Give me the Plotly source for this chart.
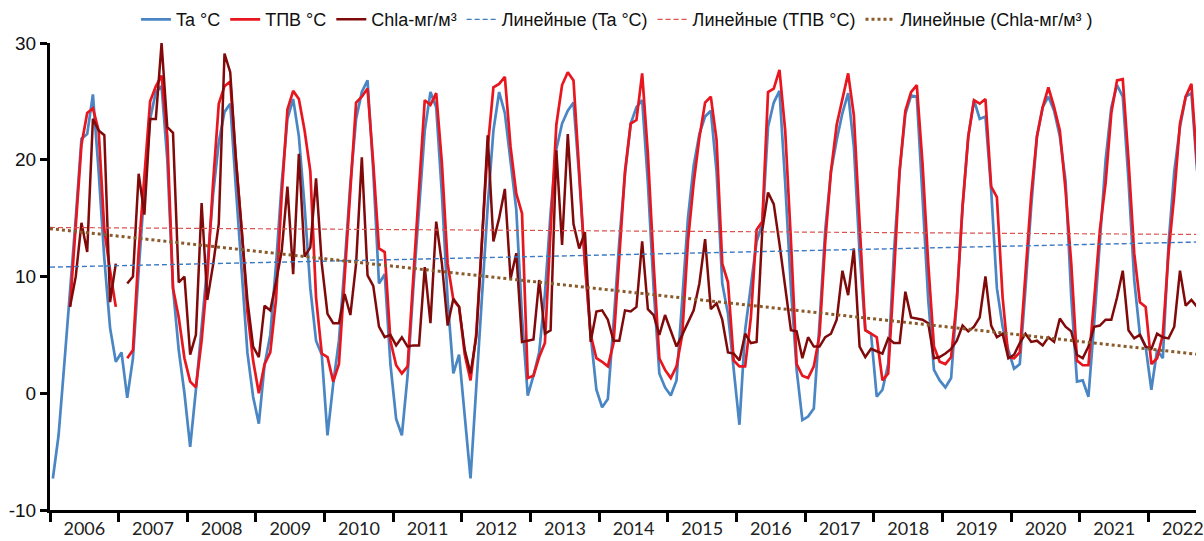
import plotly.graph_objects as go

# Monthly series, January 2006 onwards (index 0 = Jan 2006)
ta = [
    -7.3, -3.6, 2.5, 8.5, 15.0, 21.8, 22.2, 25.6, 19.0, 11.5, 5.6, 2.7,
    3.5, -0.4, 3.0, 10.5, 17.5, 23.5, 25.8, 26.3, 20.0, 9.0, 3.7, 0.0,
    -4.6, 0.3, 5.5, 11.0, 17.0, 21.5, 24.1, 24.8, 17.5, 10.5, 3.5, -0.3,
    -2.6, 2.4, 5.0, 11.0, 18.0, 23.5, 25.2, 22.0, 16.0, 9.0, 4.5, 3.3,
    -3.6, 0.8, 4.5, 11.0, 18.0, 23.5, 25.8, 26.8, 19.0, 9.4, 10.2, 2.5,
    -2.2, -3.6, 1.5, 9.0, 16.0, 22.5, 25.8, 24.5, 17.0, 8.0, 1.7, 3.3,
    -2.0, -7.3, 0.5, 8.0, 16.0, 22.5, 25.8, 24.0, 20.0, 15.7, 6.5, -0.2,
    1.5, 3.5, 8.5, 15.5, 20.9, 23.1, 24.2, 24.9, 18.5, 11.1, 5.0, 0.3,
    -1.2, -0.5, 6.0, 13.0, 18.8, 23.1, 24.5, 25.1, 18.0, 9.0, 1.7, 0.5,
    -0.2, 1.1, 8.0, 15.0, 19.5, 22.2, 23.7, 24.2, 19.0, 9.4, 6.8, 2.0,
    -2.7, 5.4, 9.0, 13.0, 14.5, 22.8, 24.9, 25.9, 18.0, 9.0, 2.0, -2.3,
    -2.0, -1.3, 6.0, 14.0, 19.0, 21.7, 24.0, 25.7, 21.1, 12.0, 5.4, 5.1,
    -0.3, 0.3, 2.5, 12.0, 19.0, 23.9, 25.5, 25.4, 16.8, 8.0, 2.0, 1.1,
    0.5, 1.3, 8.0, 16.0, 22.0, 25.1, 23.5, 23.7, 17.4, 9.0, 5.7, 3.7,
    2.1, 2.5, 9.0, 16.0, 22.0, 24.5, 25.4, 24.2, 22.0, 18.2, 8.2, 1.0,
    1.1, -0.3, 6.0, 13.0, 20.0, 24.5, 26.4, 25.4, 18.2, 9.7, 5.0, 4.0,
    0.3, 3.7, 3.0, 12.8, 19.0, 22.8, 25.4, 25.7, 19.0,
]

tpv = [
    None, None, None, 7.4, 14.5, 21.3, 24.0, 24.4, 22.5, 14.0, 10.5, 7.4,
    None, 3.0, 3.7, 12.2, 19.0, 25.0, 26.3, 27.2, 22.0, 9.0, 6.5, 3.0,
    1.0, 0.5, 4.5, 10.0, 18.0, 24.8, 26.3, 26.7, 20.0, 14.0, 7.0, 2.8,
    0.0, 2.5, 3.5, 8.0, 17.0, 24.3, 25.9, 25.2, 22.5, 19.0, 8.2, 3.4,
    3.1, 1.0, 2.5, 10.0, 18.0, 24.9, 25.4, 26.1, 19.7, 12.4, 12.1, 4.5,
    2.4, 1.7, 2.3, 10.0, 18.0, 25.1, 24.7, 25.7, 19.7, 11.1, 8.0, 7.4,
    3.3, 1.1, 5.1, 13.0, 21.0, 26.2, 26.5, 27.1, 21.1, 17.1, 15.4, 1.3,
    1.5, 3.1, 4.3, 14.0, 23.0, 26.4, 27.5, 26.8, 19.4, 11.1, 5.0, 3.0,
    2.7, 2.3, 4.3, 12.0, 19.0, 23.1, 23.4, 27.4, 20.5, 11.1, 3.0, 2.0,
    1.3, 2.3, 5.0, 13.0, 18.0, 21.9, 24.9, 25.4, 21.7, 11.1, 9.5, 2.8,
    2.3, 2.3, 6.5, 14.0, 14.7, 25.8, 26.1, 27.7, 22.5, 13.1, 2.5, 1.5,
    1.3, 2.3, 5.0, 13.0, 19.0, 23.0, 25.1, 27.4, 23.8, 14.0, 5.4, 5.1,
    4.8, 1.1, 1.7, 10.0, 19.1, 24.2, 25.8, 26.4, 19.7, 11.1, 4.0, 2.7,
    2.5, 3.1, 8.0, 16.0, 22.0, 25.1, 24.8, 25.2, 17.7, 16.8, 8.2, 3.1,
    3.0, 3.5, 10.0, 17.0, 22.0, 24.5, 26.2, 24.5, 22.5, 17.4, 11.1, 2.8,
    2.4, 2.4, 8.0, 14.0, 18.0, 24.0, 26.8, 26.9, 20.0, 12.0, 7.8, 7.4,
    2.5, 3.0, 5.0, 12.0, 17.0, 23.1, 25.4, 26.5, 19.5,
]

chla = [
    None, None, None, 7.4, 10.0, 14.6, 12.1, 23.5, 22.5, 22.1, 7.8, 11.1,
    None, 9.4, 10.0, 18.8, 15.3, 23.5, 23.5, 30.0, 22.8, 22.3, 9.5, 10.0,
    3.3, 5.0, 16.3, 8.0, 11.0, 14.5, 29.1, 27.5, 20.0, 14.0, 8.0, 4.0,
    3.1, 7.5, 7.1, 9.5, 12.2, 17.7, 10.2, 20.5, 11.7, 12.5, 18.4, 11.1,
    6.8, 6.0, 6.0, 8.5, 6.7, 11.1, 20.2, 10.1, 9.2, 5.7, 4.8, 5.0,
    4.1, 4.8, 4.0, 4.1, 4.1, 10.8, 6.0, 14.7, 11.1, 5.8, 8.1, 7.4,
    3.7, 1.7, 4.8, 13.0, 22.1, 13.0, 15.0, 17.5, 9.8, 12.0, 4.4, 4.5,
    4.6, 9.7, 5.1, 5.4, 20.8, 12.7, 22.2, 14.5, 12.4, 13.8, 4.4, 7.0,
    7.1, 6.3, 4.5, 4.5, 7.1, 7.0, 7.4, 13.0, 7.2, 6.7, 5.0, 6.7,
    5.4, 4.0, 5.0, 6.0, 7.1, 9.4, 13.2, 7.2, 7.7, 6.3, 3.5, 3.4,
    2.8, 5.1, 4.3, 4.4, 14.0, 17.2, 16.2, 12.8, 9.1, 5.4, 5.3, 3.0,
    4.8, 4.0, 4.0, 4.8, 5.1, 6.3, 10.5, 8.4, 12.4, 4.0, 3.1, 3.8,
    3.6, 3.4, 4.7, 4.3, 4.3, 8.7, 6.5, 6.4, 6.3, 6.0, 3.0, 3.1,
    3.4, 3.8, 4.5, 5.8, 5.3, 5.7, 6.5, 10.0, 5.8, 4.8, 5.1, 3.0,
    3.3, 4.3, 5.1, 4.4, 4.5, 4.1, 4.8, 4.4, 6.4, 5.7, 5.3, 3.3,
    3.0, 4.0, 5.7, 5.8, 6.3, 6.3, 8.2, 10.5, 5.4, 4.7, 5.0, 4.0,
    3.8, 5.1, 4.8, 4.7, 5.7, 10.5, 7.5, 8.0, 7.4,
]

# Linear trend lines (values at the start and end of the month axis)
trend_months = [-0.5, 199.8]
trend_ta = [10.8, 12.95]
trend_tpv = [14.2, 13.6]
trend_chla = [14.1, 3.35]

years = [str(y) for y in range(2006, 2023)]
y_ticks = [-10, 0, 10, 20, 30]
y_tick_text = ["-10", "0", "10", "20", "30"]

C_TA = "#4a86c4"
C_TPV = "#e8161e"
C_CHLA = "#800a0a"

months = list(range(len(ta)))

fig = go.Figure()

fig.add_trace(go.Scatter(x=months, y=ta, mode="lines", name="Ta °C",
                         line=dict(color=C_TA, width=2.7)))
fig.add_trace(go.Scatter(x=months, y=tpv, mode="lines", name="ТПВ °C",
                         line=dict(color=C_TPV, width=2.7)))
fig.add_trace(go.Scatter(x=months, y=chla, mode="lines", name="Chla-мг/м³",
                         line=dict(color=C_CHLA, width=2.5)))

fig.add_trace(go.Scatter(x=trend_months, y=trend_ta, mode="lines", name="Линейные (Ta °C)",
                         line=dict(color="#3c78c0", width=1.4, dash="5px,3px")))
fig.add_trace(go.Scatter(x=trend_months, y=trend_tpv, mode="lines", name="Линейные (ТПВ °C)",
                         line=dict(color="#d9534f", width=1.2, dash="5px,3px")))
fig.add_trace(go.Scatter(x=trend_months, y=trend_chla, mode="lines",
                         name="Линейные (Chla-мг/м³ )",
                         line=dict(color="#8a5a2a", width=3, dash="dot")))

fig.update_layout(
    width=1204, height=541,
    margin=dict(l=50, r=0, t=43, b=31),
    paper_bgcolor="white", plot_bgcolor="white",
    font=dict(family="Liberation Sans, Arial, sans-serif", color="#111111"),
    showlegend=True,
    legend=dict(orientation="h", x=0.075, xanchor="left", y=1.05, yanchor="middle",
                font=dict(size=18, family="Liberation Sans, Arial, sans-serif"),
                itemwidth=30, tracegroupgap=0, bgcolor="rgba(0,0,0,0)"),
)

fig.update_xaxes(
    range=[-0.5, 199.8],
    tickmode="array",
    tickvals=[12 * k + 5.5 for k in range(len(years))],
    ticktext=years,
    ticks="",
    ticklabeloverflow="allow",
    tickfont=dict(size=18, family="Lato, sans-serif", color="#222222"),
    showline=True, linecolor="black", linewidth=3,
    showgrid=False, zeroline=False,
    minor=dict(tickmode="array", tickvals=[12 * k - 0.5 for k in range(len(years) + 1)],
               ticks="outside", ticklen=9, tickwidth=3, tickcolor="black", showgrid=False),
)

fig.update_yaxes(
    range=[-10, 30],
    tickmode="array", tickvals=y_ticks, ticktext=y_tick_text,
    ticks="outside", ticklen=7, tickwidth=3, tickcolor="black",
    tickfont=dict(size=19, family="Liberation Sans, Arial, sans-serif", color="#111111"),
    showline=True, linecolor="black", linewidth=3,
    showgrid=False, zeroline=False,
)

fig.write_html("out.html")
